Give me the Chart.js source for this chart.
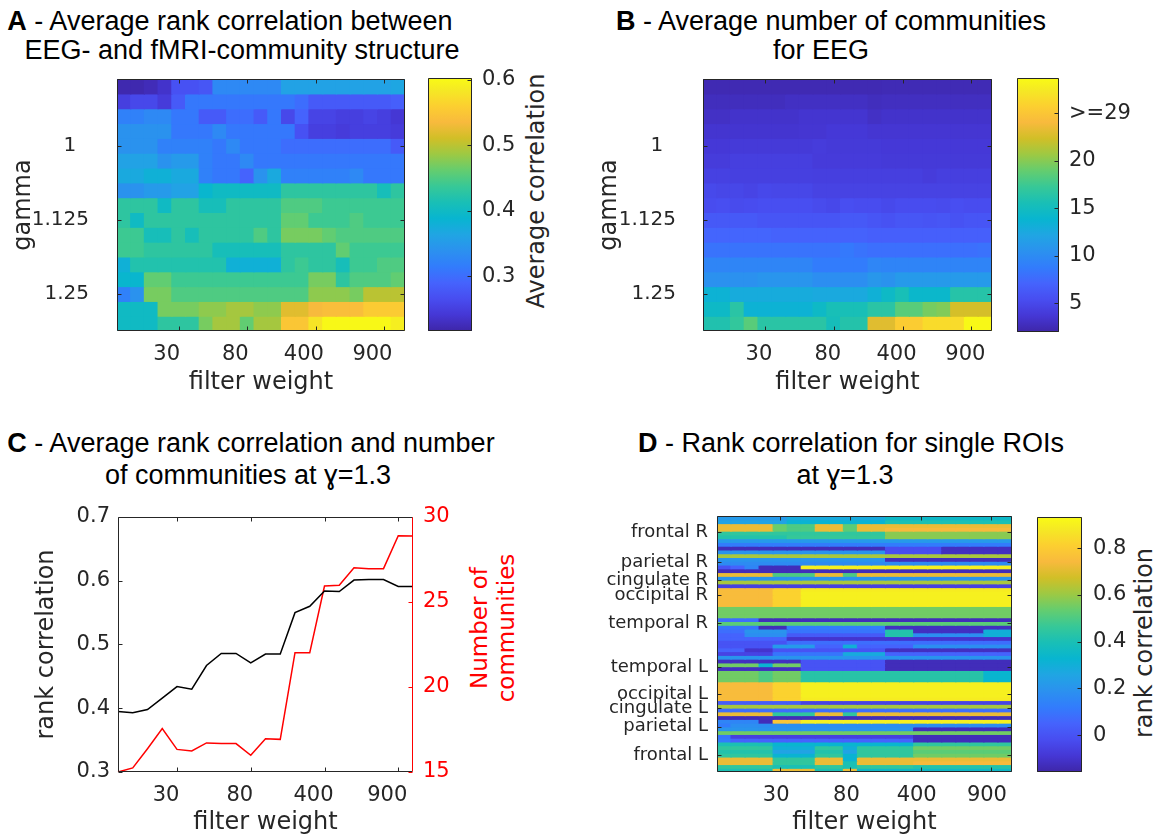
<!DOCTYPE html>
<html>
<head>
<meta charset="utf-8">
<title>EEG / fMRI community structure</title>
<script src="https://cdn.jsdelivr.net/npm/chart.js@4.4.1/dist/chart.umd.min.js"></script>
<style>
  html, body { margin: 0; padding: 0; background: #fff; }
  #fig { position: relative; width: 1157px; height: 838px; overflow: hidden; background: #fff; }
  #fig canvas { position: absolute; }
  .ttl { position: absolute; width: 700px; text-align: center; white-space: nowrap;
         font-family: "Liberation Sans", Arial, sans-serif; font-size: 27px; line-height: 30px; color: #000; }
  .rot { position: absolute; white-space: nowrap; text-align: center;
         font-family: "DejaVu Sans", sans-serif; font-size: 24px; line-height: 27px; color: #262626;
         transform: translate(-50%, -50%) rotate(-90deg); }
</style>
</head>
<body>
<div id="fig">
  <div class="ttl" style="left:-120px;top:6px"><b>A</b> - Average rank correlation between</div>
  <div class="ttl" style="left:-108px;top:35px">EEG- and fMRI-community structure</div>
  <div class="ttl" style="left:481px;top:6px"><b>B</b> - Average number of communities</div>
  <div class="ttl" style="left:471px;top:35px">for EEG</div>
  <div class="ttl" style="left:-99px;top:428px"><b>C</b> - Average rank correlation and number</div>
  <div class="ttl" style="left:-102px;top:460px">of communities at ɣ=1.3</div>
  <div class="ttl" style="left:501px;top:428px"><b>D</b> - Rank correlation for single ROIs</div>
  <div class="ttl" style="left:495px;top:460px">at ɣ=1.3</div>

  <div class="rot" style="left:536px;top:191px">Average correlation</div>
  <div class="rot" style="left:1144px;top:643px">rank correlation</div>
  <div class="rot" style="left:493px;top:628px;color:#ff0000;font-size:23px">Number of<br>communities</div>
</div>

<script>
// ---------------- data ----------------
const filterWeights = ['10','15','20','25','30','40','50','60','70','80','100','150','200','300','400','500','600','700','800','900','1000'];
const filterTicks = ['30','80','400','900'];

const gammaValues = [0.9,0.925,0.95,0.975,1,1.025,1.05,1.075,1.1,1.125,1.15,1.175,1.2,1.225,1.25,1.275,1.3];
const gammaTicks = [1, 1.125, 1.25];
const gammaTickText = ['1  ', '1.125', '1.25'];

// average rank correlation EEG vs fMRI (rows: gamma, columns: filter weight)
const corrEEGfMRI = [
  [0.22,0.22,0.225,0.235,0.27,0.27,0.275,0.33,0.33,0.33,0.33,0.33,0.36,0.36,0.36,0.36,0.36,0.36,0.36,0.36,0.365],
  [0.25,0.26,0.26,0.245,0.28,0.31,0.31,0.31,0.31,0.31,0.31,0.31,0.31,0.30,0.28,0.28,0.28,0.28,0.28,0.28,0.285],
  [0.32,0.32,0.33,0.33,0.31,0.31,0.28,0.28,0.30,0.30,0.28,0.31,0.26,0.29,0.255,0.255,0.25,0.25,0.255,0.25,0.24],
  [0.34,0.34,0.34,0.34,0.31,0.31,0.31,0.33,0.31,0.31,0.31,0.31,0.31,0.27,0.25,0.25,0.245,0.25,0.25,0.25,0.245],
  [0.34,0.34,0.34,0.32,0.32,0.32,0.32,0.31,0.33,0.31,0.31,0.31,0.30,0.30,0.30,0.30,0.30,0.30,0.30,0.30,0.28],
  [0.36,0.36,0.36,0.34,0.35,0.35,0.32,0.31,0.31,0.33,0.31,0.31,0.31,0.31,0.31,0.31,0.31,0.31,0.31,0.31,0.31],
  [0.37,0.37,0.38,0.38,0.37,0.37,0.32,0.31,0.31,0.29,0.34,0.37,0.32,0.32,0.32,0.32,0.32,0.33,0.31,0.31,0.31],
  [0.34,0.34,0.35,0.35,0.36,0.36,0.39,0.40,0.40,0.40,0.40,0.40,0.43,0.43,0.43,0.43,0.43,0.43,0.43,0.41,0.43],
  [0.43,0.43,0.43,0.40,0.43,0.43,0.41,0.41,0.43,0.43,0.43,0.43,0.45,0.45,0.45,0.44,0.44,0.44,0.44,0.44,0.44],
  [0.43,0.40,0.43,0.43,0.43,0.43,0.43,0.43,0.43,0.43,0.43,0.43,0.46,0.46,0.44,0.44,0.44,0.45,0.44,0.44,0.44],
  [0.44,0.44,0.41,0.41,0.43,0.41,0.43,0.43,0.43,0.43,0.45,0.43,0.47,0.47,0.47,0.46,0.45,0.45,0.45,0.45,0.45],
  [0.44,0.44,0.43,0.43,0.43,0.43,0.43,0.41,0.41,0.41,0.41,0.41,0.43,0.43,0.43,0.43,0.46,0.44,0.44,0.44,0.44],
  [0.38,0.42,0.42,0.42,0.42,0.42,0.42,0.42,0.38,0.38,0.38,0.38,0.43,0.44,0.43,0.43,0.41,0.44,0.44,0.45,0.45],
  [0.39,0.39,0.46,0.46,0.44,0.44,0.44,0.44,0.44,0.44,0.44,0.44,0.44,0.44,0.47,0.47,0.43,0.45,0.45,0.45,0.46],
  [0.32,0.34,0.47,0.47,0.45,0.45,0.45,0.45,0.45,0.45,0.45,0.45,0.45,0.45,0.48,0.48,0.48,0.47,0.50,0.50,0.50],
  [0.40,0.40,0.40,0.47,0.47,0.47,0.48,0.48,0.49,0.49,0.48,0.48,0.52,0.52,0.535,0.54,0.54,0.54,0.555,0.555,0.555],
  [0.40,0.40,0.40,0.43,0.43,0.43,0.47,0.49,0.49,0.46,0.49,0.49,0.55,0.55,0.58,0.60,0.60,0.60,0.60,0.60,0.59]
];
const corrRange = [0.216, 0.603];
const corrBarTicks = [0.3, 0.4, 0.5, 0.6];

// average number of EEG communities (rows: gamma, columns: filter weight)
const nCommunitiesEEG = [
  [2.4,2.4,2.4,2.4,2.4,2.4,2.4,2.4,2.4,2.4,2.4,2.4,2.4,2.5,2.5,2.5,2.5,2.5,2.5,2.5,2.5],
  [2.8,2.8,2.8,2.8,2.8,2.8,3.0,3.0,3.0,3.0,3.0,3.0,2.8,2.9,2.9,2.9,2.9,2.9,2.9,2.9,2.9],
  [3.1,3.1,3.3,3.3,3.3,3.3,3.3,3.5,3.5,3.5,3.5,3.5,3.1,3.3,3.3,3.3,3.3,3.3,3.3,3.3,3.3],
  [3.5,3.5,3.5,3.5,3.5,3.5,3.5,3.6,3.6,3.8,3.8,3.8,3.6,3.6,3.6,3.6,3.6,3.6,3.6,3.6,3.6],
  [3.8,3.8,3.9,3.9,3.9,3.9,3.9,3.9,4.1,3.9,3.9,3.9,3.9,3.8,3.8,3.8,3.8,3.8,3.8,3.8,3.8],
  [4.1,4.1,4.3,4.3,4.3,4.3,4.3,4.3,4.0,4.0,4.0,4.0,4.0,3.9,3.9,3.9,3.9,3.9,3.9,3.9,3.9],
  [4.5,4.5,4.4,4.4,4.4,4.4,4.4,4.4,4.3,4.3,4.3,4.3,4.3,4.3,4.3,4.3,4.1,4.3,4.3,4.3,4.3],
  [5.1,4.9,4.9,4.7,5.0,4.9,4.9,4.9,4.6,4.6,4.6,4.6,4.6,4.6,4.6,4.6,4.6,4.6,4.6,4.6,4.6],
  [5.3,5.5,5.2,5.3,5.5,5.5,5.5,5.5,5.2,5.0,5.5,5.3,5.3,5.1,5.3,5.3,5.3,5.2,5.5,5.3,5.3],
  [6.3,6.3,6.3,6.3,6.0,6.0,6.0,6.0,6.0,6.0,6.3,6.3,6.0,5.8,6.1,6.1,5.9,6.1,5.8,6.0,6.0],
  [7.2,7.2,7.2,7.2,7.2,7.0,7.0,7.0,7.0,7.0,7.0,7.0,6.8,6.8,6.8,6.8,6.8,6.8,6.8,6.8,6.8],
  [8.2,8.2,8.2,8.2,8.2,8.2,8.2,8.2,8.2,8.2,8.6,8.2,7.9,7.9,7.9,7.9,7.9,7.9,7.9,7.9,8.1],
  [9.5,9.5,9.5,9.5,9.5,9.5,9.5,9.5,8.8,8.8,8.8,8.8,9.6,9.4,9.4,9.4,9.4,9.4,9.4,9.4,9.4],
  [10.5,10.5,10.5,10.5,10.8,10.8,10.8,10.8,10.2,10.2,10.2,10.2,11.0,10.6,11.2,11.2,11.2,11.2,11.2,11.2,11.2],
  [13.5,13.5,12.8,12.8,12.8,12.8,12.8,12.8,12.6,12.6,12.6,12.6,13.3,14.5,15.5,14.2,14.2,14.2,16.3,16.3,16.3],
  [14.5,14.5,16.5,13.5,13.5,13.5,13.5,13.5,14.5,15.5,15.5,15.5,16.5,16.5,18.5,18.5,19.5,19.8,22.5,22.5,22.5],
  [16.0,16.0,17.0,18.5,16.5,16.5,16.5,16.5,16.5,15.3,16.2,16.2,23.0,23.0,25.5,25.5,26.5,26.5,26.5,28.5,28.5]
];
const commRange = [2.0, 28.7];
const commBarTicks = [5, 10, 15, 20, 25];
const commBarText = ['5', '10', '15', '20', '>=29'];

// gamma = 1.3: average rank correlation and number of communities
const rankCorrGamma13 = [0.395,0.393,0.398,0.416,0.434,0.430,0.467,0.486,0.486,0.471,0.485,0.485,0.550,0.560,0.584,0.583,0.601,0.602,0.602,0.591,0.591];
const nCommGamma13 = [15.0,15.24,16.37,17.55,16.33,16.24,16.71,16.67,16.67,15.98,16.96,16.92,22.02,22.02,25.94,25.98,27.02,26.96,26.96,28.90,28.88];
const corrAxisTicks = [0.3, 0.4, 0.5, 0.6, 0.7];
const commAxisTicks = [15, 20, 25, 30];

// gamma = 1.3: rank correlation for single ROIs, grouped by lobe
const roiFrontalR = [
  [0.22,0.22,0.22,0.22,0.22, 0.28,0.28,0.28,0.28,0.28,0.28,0.28, 0.35,0.35,0.35,0.35,0.35,0.35,0.35,0.35,0.35],
  [0.25,0.25,0.25,0.25,0.25, 0.32,0.32,0.32,0.32,0.32,0.32,0.32, 0.40,0.40,0.40,0.40,0.40,0.40,0.40,0.40,0.40],
  [0.72,0.72,0.72,0.72, 0.54, 0.50,0.50, 0.72,0.72, 0.52, 0.72,0.72,0.72,0.72,0.72,0.72,0.72,0.72,0.72,0.72,0.72],
  [0.72,0.72,0.72,0.72, 0.54, 0.50,0.50, 0.72,0.72, 0.52, 0.72,0.72, 0.74,0.74,0.74,0.74,0.74,0.74,0.74,0.74,0.74],
  [0.45,0.45,0.45,0.45,0.45,0.45,0.45,0.45,0.45,0.45,0.45,0.45, 0.58,0.58,0.58,0.58,0.58,0.58,0.58,0.58,0.58],
  [0.42,0.42,0.42,0.42,0.42, 0.46,0.46,0.46,0.46,0.46,0.46,0.46, 0.58,0.58,0.58,0.58,0.58,0.58,0.58,0.58,0.58],
  [0.22,0.22,0.22,0.22,0.22,0.22,0.22, 0.22,0.22,0.22,0.22,0.22,0.22,0.22, 0.22,0.22,0.22,0.22,0.22,0.22,0.22],
  [0.12,0.12,0.12,0.12,0.12,0.12,0.12, 0.12,0.12,0.12,0.12,0.12,0.12,0.12, 0.12,0.12,0.12,0.12,0.12,0.12,0.12],
  [-0.13,-0.13,-0.13,-0.13,-0.13,-0.13,-0.13,-0.13,-0.13,-0.13,-0.13,-0.13, -0.02,-0.02,-0.02,-0.02, -0.12,-0.12,-0.12,-0.12,-0.12]
];
const roiParietalR = [
  [0.20,0.20,0.20,0.20,0.20,0.20,0.20,0.20,0.20,0.20,0.20,0.20, -0.02,-0.02,-0.02,-0.02, -0.12,-0.12,-0.12,-0.12,-0.12],
  [0.62,0.62,0.62,0.62,0.62,0.62,0.62, 0.62,0.62,0.62,0.62,0.62,0.62,0.62, 0.62,0.62,0.62,0.62,0.62,0.62,0.62],
  [0.20,0.20,0.20,0.20,0.20,0.20,0.20,0.20,0.20,0.20,0.20,0.20, -0.13,-0.13,-0.13,-0.13,-0.13,-0.13,-0.13,-0.13,-0.13],
  [0.17,0.17,0.17,0.17,0.17,0.17,0.17, 0.17,0.17,0.17,0.17,0.17,0.17,0.17, 0.17,0.17,0.17,0.17,0.17,0.17,0.17],
  [0.00,0.05,0.15, -0.13,-0.13,-0.13, 0.90,0.90,0.90,0.90,0.90,0.90,0.90,0.90,0.90,0.90,0.90,0.90,0.90,0.90,0.90],
  [-0.13,-0.13,-0.13,-0.13,-0.13,-0.13,-0.13, -0.13,-0.13,-0.13,-0.13,-0.13,-0.13,-0.13, -0.13,-0.13,-0.13,-0.13,-0.13,-0.13,-0.13],
  [0.72,0.72,0.72,0.72, 0.50,0.50,0.50, 0.72,0.72, 0.50, 0.72,0.72,0.72,0.72,0.72,0.72,0.72,0.72,0.72,0.72,0.72]
];
const roiCingulateR = [
  [0.20,0.20,0.20,0.20,0.20,0.20,0.20, 0.20,0.20,0.20,0.20,0.20,0.20,0.20, 0.20,0.20,0.20,0.20,0.20,0.20,0.20],
  [0.62,0.62,0.62,0.62,0.62,0.62,0.62, 0.62,0.62,0.62,0.62,0.62,0.62,0.62, 0.62,0.62,0.62,0.62,0.62,0.62,0.62],
  [-0.06,-0.06,-0.06,-0.06,-0.06,-0.06,-0.06, -0.06,-0.06,-0.06,-0.06,-0.06,-0.06,-0.06, -0.06,-0.06,-0.06,-0.06,-0.06,-0.06,-0.06]
];
const roiOccipitalR = [
  [0.75,0.75,0.75,0.75, 0.82,0.82, 0.89,0.89,0.89,0.89,0.89,0.89,0.89,0.89,0.89,0.89,0.89,0.89,0.89,0.89,0.89],
  [0.75,0.75,0.75,0.75, 0.82,0.82, 0.90,0.90,0.90,0.90,0.90,0.90,0.90,0.90,0.90,0.90,0.90,0.90,0.90,0.90,0.90],
  [0.75,0.75,0.75,0.75, 0.82,0.82, 0.90,0.90,0.90,0.90,0.90,0.90,0.90,0.90,0.90,0.90,0.90,0.90,0.90,0.90,0.90],
  [0.75,0.75,0.75,0.75, 0.82,0.82, 0.90,0.90,0.90,0.90,0.90,0.90,0.90,0.90,0.90,0.90,0.90,0.90,0.90,0.90,0.90],
  [0.75,0.75,0.75,0.75, 0.82,0.82, 0.90,0.90,0.90,0.90,0.90,0.90,0.90,0.90,0.90,0.90,0.90,0.90,0.90,0.90,0.90]
];
const roiTemporalR = [
  [0.55,0.55,0.55,0.55,0.55,0.55,0.55, 0.55,0.55,0.55,0.55,0.55,0.55,0.55, 0.55,0.55,0.55,0.55,0.55,0.55,0.55],
  [0.55,0.55,0.55,0.55,0.55,0.55,0.55, 0.55,0.55,0.55,0.55,0.55,0.55,0.55, 0.55,0.55,0.55,0.55,0.55,0.55,0.55],
  [0.55,0.55,0.55,0.55,0.55,0.55,0.55, 0.55,0.55,0.55,0.55,0.55,0.55,0.55, 0.55,0.55,0.55,0.55,0.55,0.55,0.55],
  [0.08,0.08,0.08, -0.13,-0.13,-0.13,-0.13,-0.13,-0.13,-0.13,-0.13,-0.13,-0.13,-0.13,-0.13,-0.13,-0.13,-0.13,-0.13,-0.13,-0.13],
  [0.52,0.52,0.52,0.52,0.52,0.52,0.52, 0.52,0.52,0.52,0.52,0.52,0.52,0.52, 0.52,0.52,0.52,0.52,0.52,0.52,0.52],
  [0.10,0.10,0.10, -0.13,-0.13, 0.12,0.12,0.12,0.12,0.12,0.12,0.12, -0.12,-0.12,-0.12,-0.12,-0.12,-0.12,-0.12,-0.12,-0.12],
  [0.08,0.08, 0.20,0.20,0.20, 0.10,0.10,0.10,0.10,0.10,0.10,0.10, 0.42,0.42, -0.12,-0.12,-0.12,-0.12,-0.12, 0.30,0.30],
  [0.05,0.05, 0.18,0.18,0.18, 0.02,0.02,0.02,0.02,0.02,0.02,0.02, 0.42,0.42, 0.18,0.18,0.18,0.18,0.18, 0.30,0.30],
  [0.05,0.05,0.05,0.05,0.05, -0.10,-0.10,-0.10,-0.10,-0.10,-0.10,-0.10,-0.10,-0.10,-0.10,-0.10,-0.10,-0.10,-0.10,-0.10,-0.10],
  [0.00,0.00,0.00,0.00,0.00, 0.08,0.08,0.08,0.08,0.08,0.08,0.08,0.08,0.08,0.08,0.08,0.08,0.08,0.08,0.08,0.08]
];
const roiTemporalL = [
  [0.00,0.00,0.00,0.00, 0.22,0.22,0.22, 0.05,0.05, 0.30, 0.05,0.05,0.05,0.05, 0.18,0.18,0.18,0.18,0.18,0.18,0.18],
  [0.05,0.05, -0.10,-0.10, 0.00,0.00,0.00,0.00,0.00,0.00,0.00,0.00, -0.12,-0.12,-0.12,-0.12,-0.12,-0.12,-0.12,-0.12,-0.12],
  [-0.05,-0.05,-0.05,-0.05, 0.10,0.10,0.10,0.10,0.10, 0.28,0.28,0.28, 0.05,0.05,0.05,0.05,0.05,0.05,0.05,0.05,0.05],
  [0.20,0.20,0.20,0.20,0.20,0.20,0.20, 0.20,0.20,0.20,0.20,0.20,0.20,0.20, 0.20,0.20,0.20,0.20,0.20,0.20,0.20],
  [-0.12,-0.12,-0.12,-0.12,-0.12,-0.12, 0.00,0.00,0.00,0.00,0.00,0.00, -0.13,-0.13,-0.13,-0.13,-0.13,-0.13,-0.13,-0.13,-0.13],
  [0.55,0.55,0.55, 0.32, 0.55,0.55, 0.00,0.00,0.00,0.00,0.00,0.00, -0.13,-0.13,-0.13,-0.13,-0.13,-0.13,-0.13,-0.13,-0.13],
  [-0.12,-0.12,-0.12,-0.12,-0.12,-0.12, 0.00,0.00,0.00,0.00,0.00,0.00, -0.13,-0.13,-0.13,-0.13,-0.13,-0.13,-0.13,-0.13,-0.13],
  [0.55,0.55,0.55, 0.50, 0.55,0.55, 0.43,0.43,0.43,0.43,0.43,0.43,0.43,0.43,0.43,0.43,0.43,0.43,0.43, 0.33,0.33],
  [0.55,0.55,0.55, 0.50, 0.55,0.55, 0.43,0.43,0.43,0.43,0.43,0.43,0.43,0.43,0.43,0.43,0.43,0.43,0.43, 0.33,0.33],
  [0.55,0.55,0.55, 0.50, 0.55,0.55, 0.43,0.43,0.43,0.43,0.43,0.43,0.43,0.43,0.43,0.43,0.43,0.43,0.43, 0.33,0.33]
];
const roiOccipitalL = [
  [0.75,0.75,0.75,0.75, 0.82,0.82, 0.90,0.90,0.90,0.90,0.90,0.90,0.90,0.90,0.90,0.90,0.90,0.90,0.90,0.90,0.90],
  [0.75,0.75,0.75,0.75, 0.82,0.82, 0.90,0.90,0.90,0.90,0.90,0.90,0.90,0.90,0.90,0.90,0.90,0.90,0.90,0.90,0.90],
  [0.75,0.75,0.75,0.75, 0.82,0.82, 0.90,0.90,0.90,0.90,0.90,0.90,0.90,0.90,0.90,0.90,0.90,0.90,0.90,0.90,0.90],
  [0.75,0.75,0.75,0.75, 0.82,0.82, 0.90,0.90,0.90,0.90,0.90,0.90,0.90,0.90,0.90,0.90,0.90,0.90,0.90,0.90,0.90],
  [0.75,0.75,0.75,0.75, 0.82,0.82, 0.89,0.89,0.89,0.89,0.89,0.89,0.89,0.89,0.89,0.89,0.89,0.89,0.89,0.89,0.89]
];
const roiCingulateL = [
  [0.03,0.03,0.03,0.03,0.03,0.03, -0.05,-0.05,-0.05,-0.05,-0.05,-0.05,-0.05,-0.05,-0.05,-0.05,-0.05,-0.05,-0.05,-0.05,-0.05],
  [0.62,0.62,0.62,0.62,0.62,0.62,0.62, 0.62,0.62,0.62,0.62,0.62,0.62,0.62, 0.62,0.62,0.62,0.62,0.62,0.62,0.62],
  [0.08,0.08,0.08,0.08,0.08,0.08,0.08, 0.08,0.08,0.08,0.08,0.08,0.08,0.08, 0.08,0.08,0.08,0.08,0.08,0.08,0.08]
];
const roiParietalL = [
  [0.72,0.72,0.72,0.72, 0.45,0.45,0.45, 0.72,0.72, 0.45, 0.72,0.72,0.72,0.72,0.72,0.72,0.72,0.72,0.72,0.72,0.72],
  [-0.13,-0.13,-0.13,-0.13,-0.13,-0.13,-0.13, -0.13,-0.13,-0.13,-0.13,-0.13,-0.13,-0.13, -0.13,-0.13,-0.13,-0.13,-0.13,-0.13,-0.13],
  [0.15,0.15,0.15, -0.13, 0.78,0.78, 0.90,0.90,0.90,0.90,0.90,0.90,0.90,0.90,0.90,0.90,0.90,0.90,0.90,0.90,0.90],
  [0.12, 0.18,0.18,0.18,0.18,0.18,0.18,0.18,0.18,0.18,0.18, 0.18,0.18,0.18,0.18,0.18,0.18,0.18,0.18,0.18,0.18],
  [0.20,0.20,0.20,0.20,0.20,0.20,0.20,0.20,0.20,0.20,0.20,0.20,0.20,0.20, -0.13,-0.13,-0.13,-0.13,-0.13,-0.13,-0.13],
  [0.55,0.55,0.55,0.55,0.55,0.55,0.55, 0.55,0.55,0.55,0.55,0.55,0.55,0.55, 0.55,0.55,0.55,0.55,0.55,0.55,0.55],
  [0.10, -0.06,-0.06,-0.06,-0.06,-0.06,-0.06,-0.06,-0.06,-0.06,-0.06,-0.06,-0.06,-0.06, -0.13,-0.13,-0.13,-0.13,-0.13,-0.13,-0.13]
];
const roiFrontalL = [
  [0.12, 0.05,0.05,0.05,0.05,0.05,0.05,0.05,0.05,0.05,0.05,0.05,0.05,0.05, -0.13,-0.13,-0.13,-0.13,-0.13,-0.13,-0.13],
  [0.40,0.40,0.40,0.40, 0.33,0.33,0.33,0.33,0.33,0.33,0.33,0.33,0.33,0.33, 0.45,0.45,0.45,0.45,0.45,0.45,0.45],
  [0.45,0.45,0.45,0.45, 0.30,0.30,0.30, 0.45,0.45, 0.30, 0.45,0.45,0.45,0.45, 0.55,0.55,0.55,0.55,0.55,0.55,0.55],
  [0.42,0.42,0.42,0.42, 0.25,0.25,0.25, 0.42,0.42, 0.25, 0.45,0.45,0.45,0.45, 0.52,0.52,0.52,0.52,0.52,0.52,0.52],
  [0.45,0.45,0.45,0.45, 0.32,0.32,0.32, 0.45,0.45, 0.32, 0.45,0.45,0.45,0.45, 0.55,0.55,0.55,0.55,0.55,0.55,0.55],
  [0.72,0.72,0.72,0.72, 0.45,0.45,0.45, 0.72,0.72, 0.32, 0.72,0.72,0.72,0.72,0.72,0.72,0.72,0.72,0.72,0.72,0.72],
  [0.72,0.72,0.72,0.72, 0.45,0.45,0.45, 0.72,0.72, 0.40, 0.72,0.72,0.72,0.72, 0.74,0.74,0.74,0.74,0.74,0.74,0.74],
  [0.45,0.45,0.45,0.45, 0.40,0.40,0.40, 0.45,0.45, 0.40, 0.45,0.45,0.45,0.45, 0.42,0.42,0.42,0.42,0.42,0.42,0.42],
  [0.40,0.40,0.40,0.40, 0.72,0.72,0.72, 0.40,0.40, 0.72, 0.35,0.35,0.35,0.35,0.35,0.35,0.35,0.35,0.35,0.35,0.35]
];
const roiTickRows = [4.25, 12.2, 17.0, 21.0, 28.4, 40.1, 47.3, 51.0, 56.0, 63.5];
const roiTickText = ['frontal R','parietal R','cingulate R','occipital R','temporal R','temporal L','occipital L','cingulate L','parietal L','frontal L'];
const roiRange = [-0.158, 0.933];
const roiBarTicks = [0, 0.2, 0.4, 0.6, 0.8];

// parula colour map: [position, r, g, b]
const PARULA = [
  [0.0000, 62, 38,168], [0.0635, 69, 55,213], [0.1270, 72, 77,240], [0.1905, 69, 99,253],
  [0.2540, 50,124,252], [0.3175, 43,145,239], [0.3810, 32,165,227], [0.4444,  8,181,208],
  [0.5079, 25,191,182], [0.5714, 55,200,151], [0.6349,100,205,111], [0.6984,157,201, 67],
  [0.7619,209,191, 39], [0.8254,248,186, 61], [0.8889,252,207, 48], [0.9524,245,233, 36],
  [1.0000,249,251, 21]
];

// ---------------- helpers ----------------
const TXT = '#262626';
const RED = '#ff0000';
const TICK_FONT = { family: '"DejaVu Sans", sans-serif', size: 21 };
const GAMMA_FONT = { family: '"DejaVu Sans", sans-serif', size: 20 };
const LABEL_FONT = { family: '"DejaVu Sans", sans-serif', size: 24 };
const NO_GRID = { display: false, drawTicks: false };

Chart.defaults.font.family = '"DejaVu Sans", sans-serif';
Chart.defaults.color = TXT;
Chart.defaults.animation = false;

function colourFor(v, lo, hi) {
  let t = (v - lo) / (hi - lo);
  t = Math.max(0, Math.min(1, t));
  for (let i = 1; i < PARULA.length; i++) {
    if (t <= PARULA[i][0]) {
      const a = PARULA[i - 1], b = PARULA[i];
      const u = (t - a[0]) / (b[0] - a[0]);
      const c = k => Math.round(a[k] + (b[k] - a[k]) * u);
      return `rgb(${c(1)},${c(2)},${c(3)})`;
    }
  }
  const z = PARULA[PARULA.length - 1];
  return `rgb(${z[1]},${z[2]},${z[3]})`;
}

function parulaGradient(chart, lo, hi) {
  if (!chart.chartArea) return '#888';
  const s = chart.scales.y;
  const g = chart.ctx.createLinearGradient(0, s.getPixelForValue(lo), 0, s.getPixelForValue(hi));
  PARULA.forEach(p => g.addColorStop(p[0], `rgb(${p[1]},${p[2]},${p[3]})`));
  return g;
}

// axis boxes get a fixed thickness so each plot area lands where it should
function fixSize(px) {
  return s => {
    if (s.isHorizontal()) s.height = px; else s.width = px;
    s.paddingLeft = s.paddingRight = s.paddingTop = s.paddingBottom = 0;
  };
}

function keepFilterTicks(s) {
  s.ticks = s.ticks.filter(t => filterTicks.includes(filterWeights[t.value]));
}

function fixedTicks(values) {
  return s => { s.ticks = values.map(v => ({ value: v })); };
}

function textFor(values, texts) {
  return v => {
    const i = values.findIndex(x => Math.abs(x - v) < 1e-9);
    return i >= 0 ? texts[i] : '';
  };
}

// axes box with inward tick marks
const framePlugin = {
  id: 'frame',
  afterDatasetsDraw(chart, args, o) {
    if (!o || !o.enabled) return;
    const { ctx, chartArea: a } = chart;
    const L = Math.round(a.left) + 0.5, R = Math.round(a.right) - 0.5;
    const T = Math.round(a.top) + 0.5, B = Math.round(a.bottom) - 0.5;
    const len = o.tickLength || 4;
    ctx.save();
    ctx.lineWidth = 1;
    const seg = (x1, y1, x2, y2, c) => {
      ctx.strokeStyle = c; ctx.beginPath(); ctx.moveTo(x1, y1); ctx.lineTo(x2, y2); ctx.stroke();
    };
    if (o.xScale) {
      const s = chart.scales[o.xScale];
      s.ticks.forEach((t, i) => {
        const x = Math.round(s.getPixelForTick(i)) + 0.5;
        seg(x, B, x, B - len, o.color);
        if (o.topTicks) seg(x, T, x, T + len, o.color);
      });
    }
    (o.yTicks || []).forEach(y => {
      const s = chart.scales[y.id];
      s.ticks.forEach((t, i) => {
        const py = Math.round(s.getPixelForTick(i)) + 0.5;
        if (y.side === 'left') seg(L, py, L + len, py, y.color || o.color);
        else seg(R, py, R - len, py, y.color || o.color);
      });
    });
    seg(L, T, R, T, o.color);
    seg(L, B, R, B, o.color);
    seg(L, T, L, B, o.leftColor || o.color);
    seg(R, T, R, B, o.rightColor || o.color);
    ctx.restore();
  }
};
Chart.register(framePlugin);

const fig = document.getElementById('fig');
function addCanvas(box) {
  const c = document.createElement('canvas');
  c.width = box.right - box.left;
  c.height = box.bottom - box.top;
  c.style.left = box.left + 'px';
  c.style.top = box.top + 'px';
  fig.appendChild(c);
  return c;
}

const baseOptions = {
  responsive: false,
  animation: false,
  events: [],
  plugins: { legend: { display: false }, tooltip: { enabled: false } }
};

function makeHeatmap(cfg) {
  const { rows, rowPos, half, range, yMin, yMax, yTickVals, yTickText, box, area } = cfg;
  const datasets = rows.map((row, r) => ({
    data: row.map(() => [rowPos[r] - half, rowPos[r] + half]),
    backgroundColor: row.map(v => colourFor(v, range[0], range[1])),
    borderWidth: 0,
    inflateAmount: 0.6,
    grouped: false,
    barPercentage: 1,
    categoryPercentage: 1
  }));
  return new Chart(addCanvas(box), {
    type: 'bar',
    data: { labels: filterWeights, datasets },
    options: {
      ...baseOptions,
      layout: { padding: { left: 0, top: area.top - box.top, right: box.right - area.right, bottom: 0 } },
      scales: {
        x: {
          type: 'category', offset: true,
          grid: NO_GRID, border: { display: false },
          ticks: { autoSkip: false, maxRotation: 0, minRotation: 0, padding: 11,
                   labelOffset: cfg.labelOffset, font: TICK_FONT, color: TXT },
          title: { display: true, text: 'filter weight', font: LABEL_FONT, color: TXT,
                   padding: { top: 0, bottom: cfg.xTitlePad } },
          afterBuildTicks: keepFilterTicks,
          afterFit: fixSize(box.bottom - area.bottom)
        },
        y: {
          type: 'linear', reverse: true, min: yMin, max: yMax,
          grid: NO_GRID, border: { display: false },
          ticks: { autoSkip: false, padding: cfg.yTickPad, font: cfg.yTickFont || TICK_FONT, color: TXT,
                   callback: textFor(yTickVals, yTickText) },
          afterBuildTicks: fixedTicks(yTickVals),
          title: cfg.yTitle
            ? { display: true, text: cfg.yTitle, font: LABEL_FONT, color: TXT, padding: { top: cfg.yTitlePad, bottom: 0 } }
            : { display: false },
          afterFit: fixSize(area.left - box.left)
        }
      },
      plugins: {
        ...baseOptions.plugins,
        frame: { enabled: true, color: TXT, tickLength: 4, xScale: 'x', topTicks: true,
                 yTicks: [{ id: 'y', side: 'left' }, { id: 'y', side: 'right' }] }
      }
    }
  });
}

function makeColorbar(cfg) {
  const { range, tickVals, tickText, box, area } = cfg;
  return new Chart(addCanvas(box), {
    type: 'bar',
    data: {
      labels: [''],
      datasets: [{
        data: [range],
        backgroundColor: c => parulaGradient(c.chart, range[0], range[1]),
        borderWidth: 0, barPercentage: 1, categoryPercentage: 1
      }]
    },
    options: {
      ...baseOptions,
      layout: { padding: { left: area.left - box.left, top: area.top - box.top, right: 0, bottom: box.bottom - area.bottom } },
      scales: {
        x: { display: false },
        y: {
          type: 'linear', position: 'right', min: range[0], max: range[1],
          grid: NO_GRID, border: { display: false },
          ticks: { autoSkip: false, padding: cfg.tickPad, font: TICK_FONT, color: TXT,
                   callback: textFor(tickVals, tickText) },
          afterBuildTicks: fixedTicks(tickVals),
          afterFit: fixSize(box.right - area.right)
        }
      },
      plugins: {
        ...baseOptions.plugins,
        frame: { enabled: true, color: TXT, tickLength: 4, yTicks: [{ id: 'y', side: 'right' }] }
      }
    }
  });
}

// ---------------- panel A ----------------
makeHeatmap({
  rows: corrEEGfMRI, rowPos: gammaValues, half: 0.0125, range: corrRange,
  yMin: 0.8875, yMax: 1.3125, yTickVals: gammaTicks, yTickText: gammaTickText, yTickFont: GAMMA_FONT,
  yTickPad: 28, yTitle: 'gamma', yTitlePad: 9, xTitlePad: 12.6, labelOffset: -12,
  box: { left: 0, top: 60, right: 425, bottom: 410 },
  area: { left: 117, top: 79, right: 405, bottom: 331 }
});
makeColorbar({
  range: corrRange, tickVals: corrBarTicks, tickText: corrBarTicks.map(v => v.toFixed(1)), tickPad: 10,
  box: { left: 420, top: 55, right: 560, bottom: 350 },
  area: { left: 428, top: 78, right: 472, bottom: 331 }
});

// ---------------- panel B ----------------
makeHeatmap({
  rows: nCommunitiesEEG, rowPos: gammaValues, half: 0.0125, range: commRange,
  yMin: 0.8875, yMax: 1.3125, yTickVals: gammaTicks, yTickText: gammaTickText, yTickFont: GAMMA_FONT,
  yTickPad: 27, yTitle: 'gamma', yTitlePad: 10, xTitlePad: 12.6, labelOffset: -6,
  box: { left: 585, top: 60, right: 1005, bottom: 410 },
  area: { left: 703, top: 79, right: 992, bottom: 331 }
});
makeColorbar({
  range: commRange, tickVals: commBarTicks, tickText: commBarText, tickPad: 10,
  box: { left: 1005, top: 55, right: 1157, bottom: 350 },
  area: { left: 1017, top: 78, right: 1059, bottom: 332 }
});

// ---------------- panel C ----------------
(function () {
  const box = { left: 0, top: 495, right: 560, bottom: 838 };
  const area = { left: 118, top: 517, right: 413, bottom: 772 };
  new Chart(addCanvas(box), {
    type: 'line',
    data: {
      labels: filterWeights,
      datasets: [
        { data: rankCorrGamma13, yAxisID: 'yL', borderColor: '#000', borderWidth: 1.5,
          pointRadius: 0, tension: 0, fill: false },
        { data: nCommGamma13, yAxisID: 'yR', borderColor: RED, borderWidth: 1.5,
          pointRadius: 0, tension: 0, fill: false }
      ]
    },
    options: {
      ...baseOptions,
      layout: { padding: { left: 0, top: area.top - box.top, right: 0, bottom: 0 } },
      scales: {
        x: {
          type: 'category', offset: false,
          grid: NO_GRID, border: { display: false },
          ticks: { autoSkip: false, maxRotation: 0, minRotation: 0, padding: 11, labelOffset: -11,
                   font: TICK_FONT, color: TXT },
          title: { display: true, text: 'filter weight', font: LABEL_FONT, color: TXT, padding: { top: 0, bottom: 1 } },
          afterBuildTicks: keepFilterTicks,
          afterFit: fixSize(box.bottom - area.bottom)
        },
        yL: {
          type: 'linear', position: 'left', min: 0.3, max: 0.7,
          grid: NO_GRID, border: { display: false },
          ticks: { padding: 8, font: TICK_FONT, color: TXT, callback: v => v.toFixed(1) },
          afterBuildTicks: fixedTicks(corrAxisTicks),
          title: { display: true, text: 'rank correlation', font: LABEL_FONT, color: TXT, padding: { top: 32, bottom: 0 } },
          afterFit: fixSize(area.left - box.left)
        },
        yR: {
          type: 'linear', position: 'right', min: 15, max: 30,
          grid: NO_GRID, border: { display: false },
          ticks: { padding: 10, font: TICK_FONT, color: RED },
          afterBuildTicks: fixedTicks(commAxisTicks),
          afterFit: fixSize(box.right - area.right)
        }
      },
      plugins: {
        ...baseOptions.plugins,
        frame: { enabled: true, color: TXT, rightColor: RED, tickLength: 4, xScale: 'x', topTicks: true,
                 yTicks: [{ id: 'yL', side: 'left', color: TXT }, { id: 'yR', side: 'right', color: RED }] }
      }
    }
  });
})();

// ---------------- panel D ----------------
const roiRows = [].concat(roiFrontalR, roiParietalR, roiCingulateR, roiOccipitalR, roiTemporalR,
                          roiTemporalL, roiOccipitalL, roiCingulateL, roiParietalL, roiFrontalL);
makeHeatmap({
  rows: roiRows, rowPos: roiRows.map((r, i) => i + 0.5), half: 0.5, range: roiRange,
  yMin: 0, yMax: roiRows.length, yTickVals: roiTickRows, yTickText: roiTickText,
  yTickPad: 9, yTickFont: { family: '"DejaVu Sans", sans-serif', size: 18 },
  yTitle: null, xTitlePad: 1, labelOffset: -4,
  box: { left: 580, top: 495, right: 1025, bottom: 838 },
  area: { left: 717, top: 516, right: 1012, bottom: 772 }
});
makeColorbar({
  range: roiRange, tickVals: roiBarTicks, tickText: roiBarTicks.map(v => v === 0 ? '0' : v.toFixed(1)), tickPad: 11,
  box: { left: 1025, top: 495, right: 1157, bottom: 790 },
  area: { left: 1037, top: 517, right: 1082, bottom: 772 }
});
</script>
</body>
</html>
